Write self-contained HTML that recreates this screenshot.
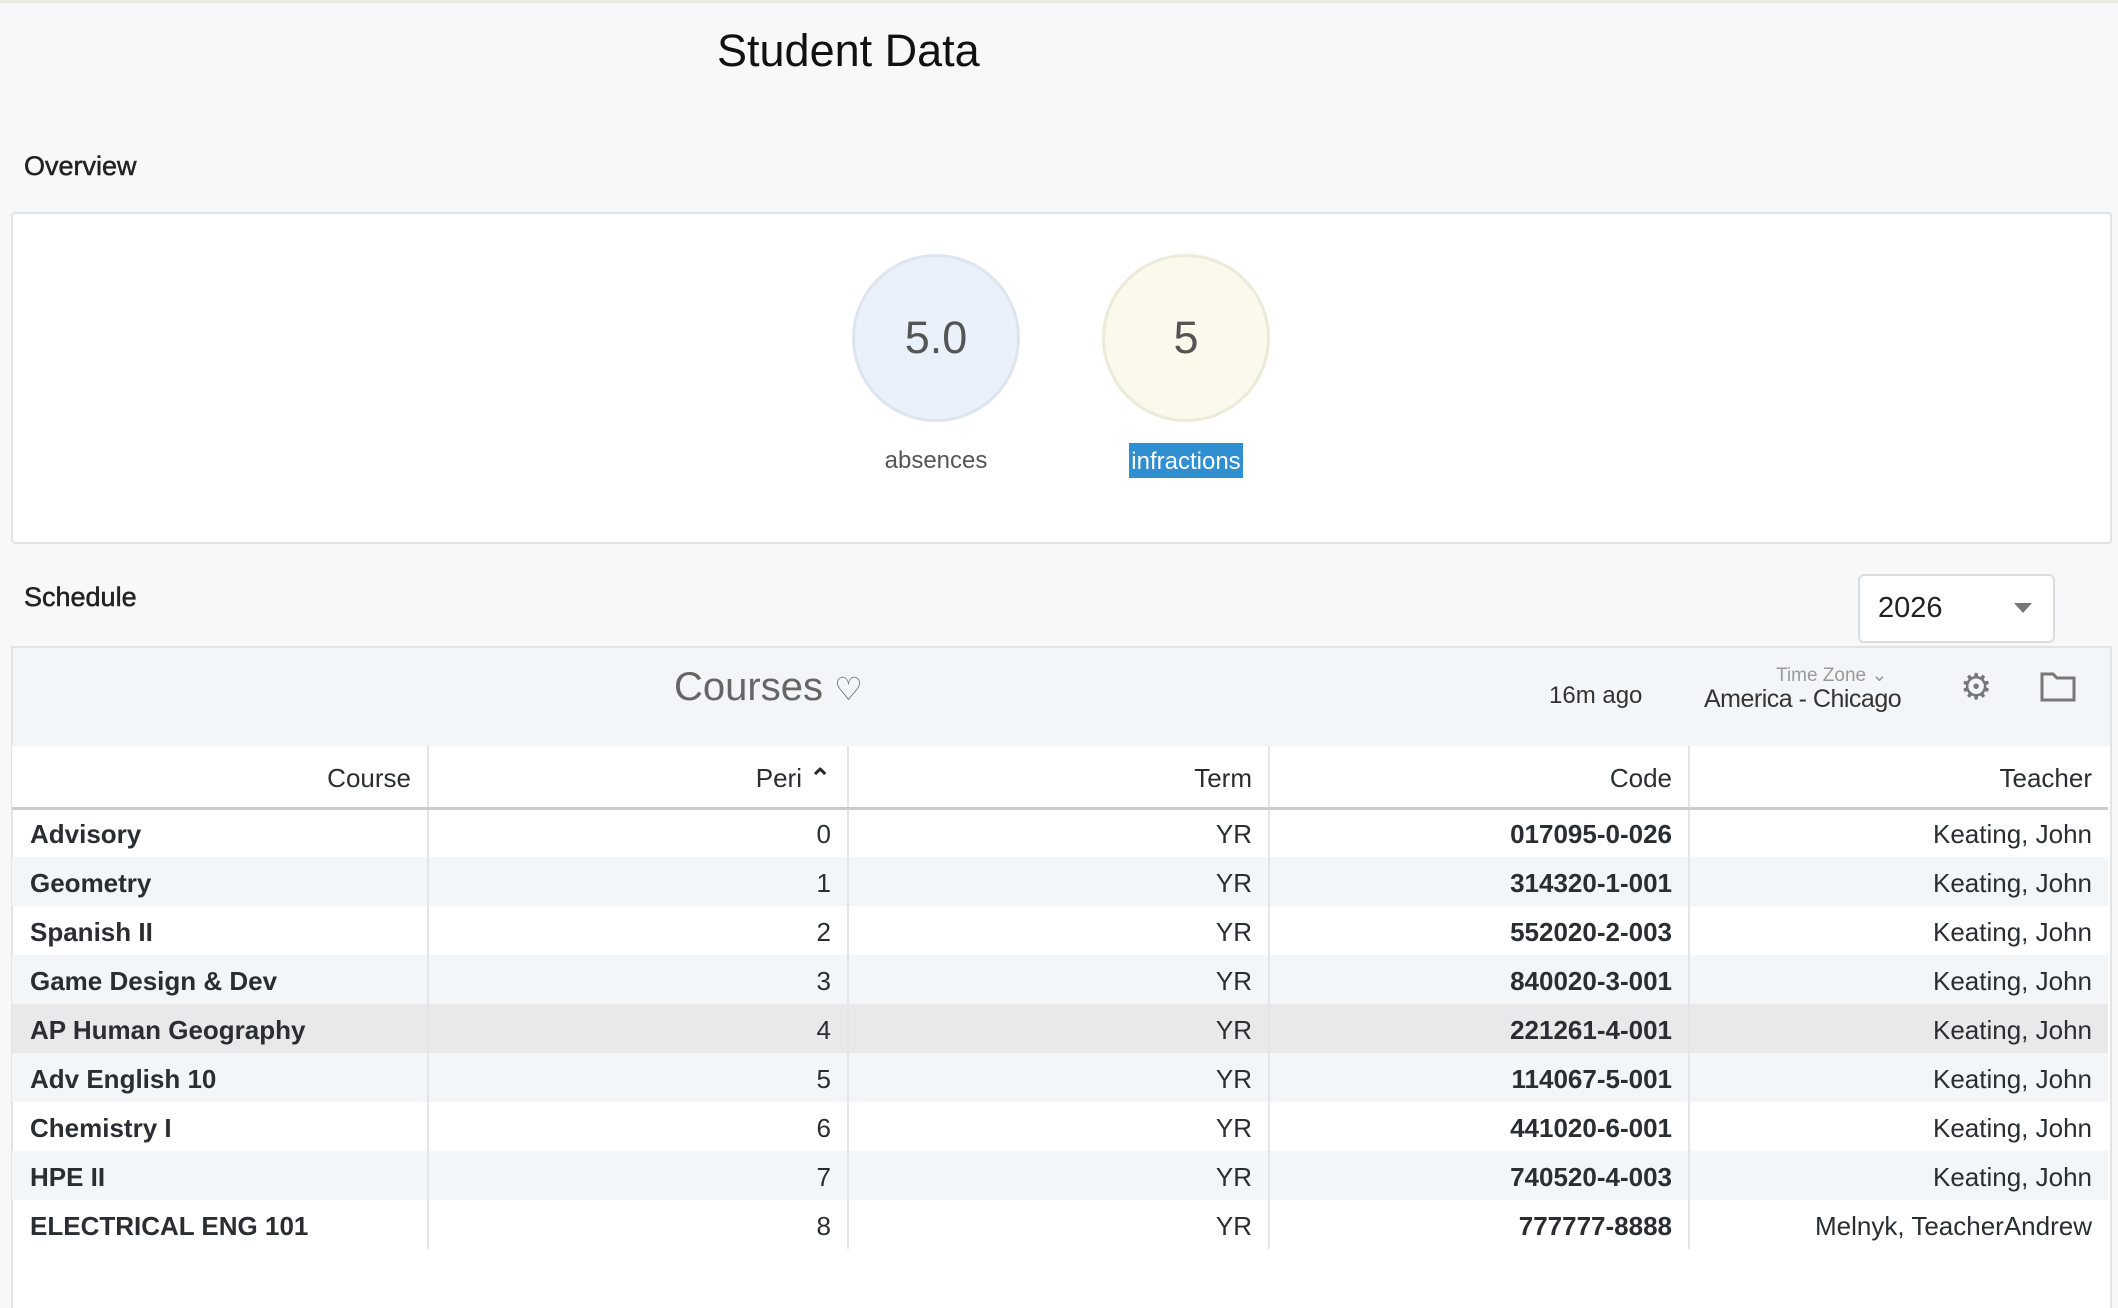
<!DOCTYPE html>
<html><head><style>
*{box-sizing:border-box;margin:0;padding:0}
body{width:2118px;height:1308px;background:#f7f8fa;font-family:"Liberation Sans",sans-serif;position:relative;overflow:hidden;color:#222}
.a{position:absolute;white-space:nowrap}
table{border-collapse:collapse;position:absolute;left:12px;top:746px;width:2096px;table-layout:fixed}
td,th{height:49px;font-size:26px;text-align:right;padding:0 16px;border-right:2px solid #e3e5e8;color:#2a2d31}
th{height:62px;font-weight:normal;border-bottom:3px solid #c9cdd1;background:#fff;padding-top:4px}
td{padding-top:3px}
td:last-child,th:last-child{border-right:none}
tr.s td{background:#f3f6f9}
tr.h td{background:#e7e9ea}
td:first-child{text-align:left;font-weight:bold;padding-left:18px}
td:nth-child(4){font-weight:bold}
</style></head><body>
<div class="a" style="left:0;top:0;width:2118px;height:3px;background:#e6ecdc"></div>
<div class="a" style="left:717px;top:25px;font-size:45px;color:#111">Student Data</div>
<div class="a" style="left:24px;top:151px;font-size:27px;color:#222;-webkit-text-stroke:0.5px #222">Overview</div>
<div class="a" style="left:11px;top:212px;width:2101px;height:332px;background:#fff;border:2px solid #e1e3e5;border-radius:4px"></div>
<div class="a" style="left:852px;top:254px;width:168px;height:168px;border-radius:50%;background:#ebf1fa;border:3px solid #dfe5ee;text-align:center;line-height:162px;font-size:45px;color:#555">5.0</div>
<div class="a" style="left:1102px;top:254px;width:168px;height:168px;border-radius:50%;background:#fbf8ec;border:3px solid #ecead9;text-align:center;line-height:162px;font-size:45px;color:#555">5</div>
<div class="a" style="left:856px;top:447px;width:160px;text-align:center;font-size:24px;color:#555">absences</div>
<div class="a" style="left:1129px;top:443px;width:114px;height:35px;background:#2f8fd0;color:#fff;text-align:center;font-size:24px;line-height:37px">infractions</div>
<div class="a" style="left:24px;top:582px;font-size:27px;color:#222;-webkit-text-stroke:0.5px #222">Schedule</div>
<div class="a" style="left:1858px;top:574px;width:197px;height:69px;background:#fff;border:2px solid #dadde0;border-radius:6px"></div>
<div class="a" style="left:1878px;top:592px;font-size:29px;color:#222">2026</div>
<div class="a" style="left:2014px;top:603px;width:0;height:0;border-left:9px solid transparent;border-right:9px solid transparent;border-top:10px solid #777"></div>
<div class="a" style="left:11px;top:646px;width:2101px;height:662px;background:#fff;border:2px solid #e1e3e5;border-bottom:none"></div>
<div class="a" style="left:13px;top:648px;width:2097px;height:98px;background:#f3f6f9"></div>
<div class="a" style="left:674px;top:665px;font-size:40px;color:#666">Courses <span style="font-size:32px">♡</span></div>
<div class="a" style="left:1549px;top:682px;font-size:24px;color:#333">16m ago</div>
<div class="a" style="left:1776px;top:664px;font-size:19px;color:#999">Time Zone ⌄</div>
<div class="a" style="left:1704px;top:685px;font-size:25px;color:#333;letter-spacing:-0.5px">America - Chicago</div>
<div class="a" style="left:1960px;top:666px;font-size:36px;color:#777">⚙</div>
<svg class="a" style="left:2040px;top:670px" width="36" height="32"><path d="M2 4h11l4 4h17v22H2z" fill="none" stroke="#777" stroke-width="3"/></svg>
<table>
<colgroup><col style="width:416px"><col style="width:420px"><col style="width:421px"><col style="width:420px"><col style="width:419px"></colgroup>
<tr><th>Course</th><th>Peri <span style="font-size:26px;font-weight:bold">&#8963;</span></th><th>Term</th><th>Code</th><th>Teacher</th></tr>
<tr><td>Advisory</td><td>0</td><td>YR</td><td>017095-0-026</td><td>Keating, John</td></tr>
<tr class="s"><td>Geometry</td><td>1</td><td>YR</td><td>314320-1-001</td><td>Keating, John</td></tr>
<tr><td>Spanish II</td><td>2</td><td>YR</td><td>552020-2-003</td><td>Keating, John</td></tr>
<tr class="s"><td>Game Design &amp; Dev</td><td>3</td><td>YR</td><td>840020-3-001</td><td>Keating, John</td></tr>
<tr class="h"><td>AP Human Geography</td><td>4</td><td>YR</td><td>221261-4-001</td><td>Keating, John</td></tr>
<tr class="s"><td>Adv English 10</td><td>5</td><td>YR</td><td>114067-5-001</td><td>Keating, John</td></tr>
<tr><td>Chemistry I</td><td>6</td><td>YR</td><td>441020-6-001</td><td>Keating, John</td></tr>
<tr class="s"><td>HPE II</td><td>7</td><td>YR</td><td>740520-4-003</td><td>Keating, John</td></tr>
<tr><td>ELECTRICAL ENG 101</td><td>8</td><td>YR</td><td>777777-8888</td><td>Melnyk, TeacherAndrew</td></tr>
</table>
</body></html>
